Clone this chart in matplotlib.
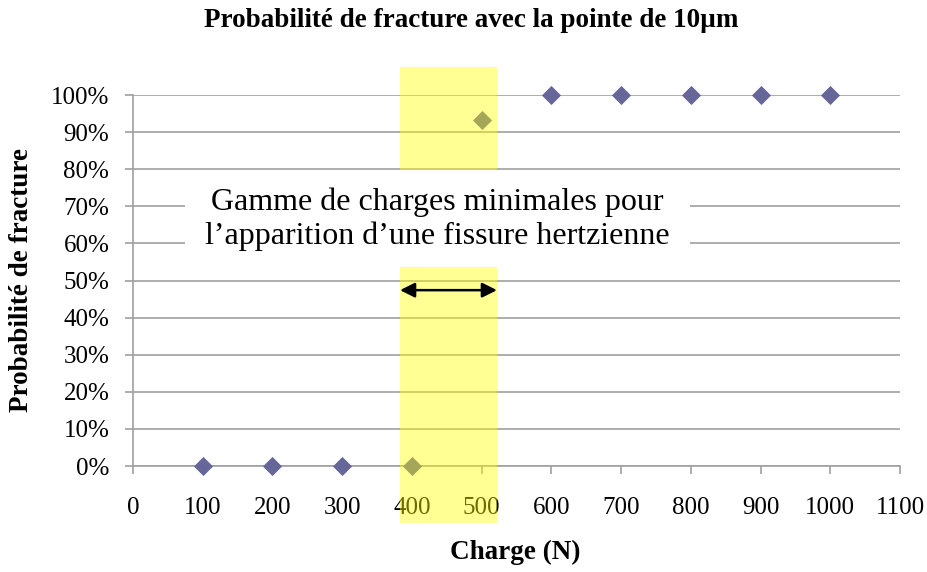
import numpy as np
import matplotlib.pyplot as plt
from matplotlib.patches import Rectangle
from matplotlib.ticker import PercentFormatter

plt.rcParams['font.family'] = ['Liberation Serif', 'DejaVu Serif']

# --- DATA ---
charge = [100, 200, 300, 400, 500, 600, 700, 800, 900, 1000]
proba = [0, 0, 0, 0, 0.933, 1, 1, 1, 1, 1]
zone = (383, 522)          # range of minimal loads (N)
x_ticks = list(range(0, 1101, 100))
y_ticks = [i / 10 for i in range(11)]

fig = plt.figure(figsize=(9.28, 5.72), dpi=100)
ax = fig.add_axes([0.1433, 0.1853, 0.8265, 0.6486])

grey = '#a0a0a0'
ax.scatter(charge, proba, marker='D', s=95, color='#666699', zorder=3,
           linewidths=0, clip_on=False)

ax.set_xlim(0, 1100)
ax.set_ylim(0, 1)
ax.set_xticks(x_ticks)
ax.set_yticks(y_ticks)
ax.yaxis.set_major_formatter(PercentFormatter(1.0, decimals=0))
ax.grid(axis='y', color=grey, linewidth=1.2)
ax.set_axisbelow(True)
for s in ['top', 'right']:
    ax.spines[s].set_visible(False)
for s in ['left', 'bottom']:
    ax.spines[s].set_color(grey)
    ax.spines[s].set_linewidth(1.2)
ax.tick_params(colors=grey, labelcolor='black', labelsize=18, length=6, width=1.2)
ax.tick_params(axis='x', pad=16)
ax.tick_params(axis='y', pad=11)

# yellow band over the transition zone
ax.add_patch(Rectangle((zone[0], -0.154), zone[1] - zone[0], 1.229,
                       facecolor='#ffff00', alpha=0.42, edgecolor='none',
                       clip_on=False, zorder=4))

# white label box
ax.add_patch(Rectangle((75, 0.536), 724, 0.262, facecolor='white',
                       edgecolor='none', zorder=5))
ax.text(436, 0.665, 'Gamme de charges minimales pour\nl\u2019apparition d\u2019une fissure hertzienne',
        ha='center', va='center', fontsize=23, linespacing=1.2, zorder=6)

ax.annotate('', xy=(zone[0], 0.474), xytext=(zone[1], 0.474),
            arrowprops=dict(arrowstyle='<|-|>', color='black', lw=1.8,
                            mutation_scale=22, shrinkA=0, shrinkB=0), zorder=7)

fig.text(0.508, 0.965, 'Probabilit\u00e9 de fracture avec la pointe de 10\u00b5m',
         ha='center', va='center', fontsize=19.5, fontweight='bold')
fig.text(0.555, 1 - 552 / 572, 'Charge (N)', ha='center', va='center',
         fontsize=19.5, fontweight='bold')
fig.text(22 / 928, 1 - 280 / 572, 'Probabilit\u00e9 de fracture', ha='center',
         va='center', rotation=90, fontsize=19.5, fontweight='bold')

fig.savefig('out.png', dpi=100)
